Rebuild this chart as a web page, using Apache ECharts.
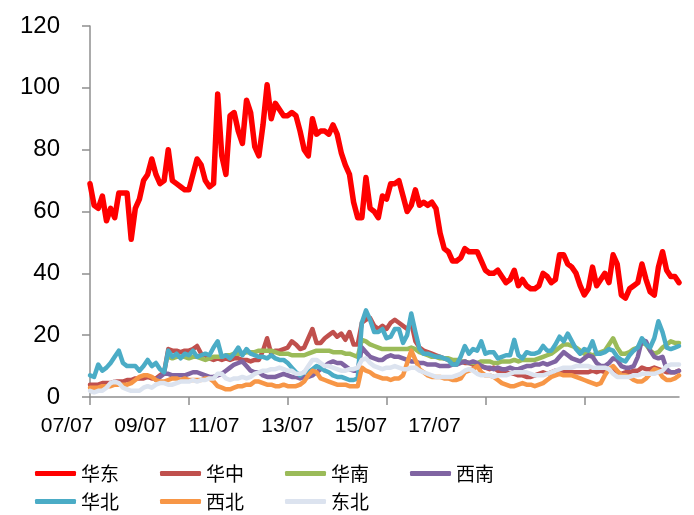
<!DOCTYPE html>
<html><head><meta charset="utf-8">
<script src="https://cdn.jsdelivr.net/npm/echarts@6/dist/echarts.min.js"></script>
<style>html,body{margin:0;padding:0;background:#fff}#c{width:694px;height:515px}</style>
</head><body><div id="c"></div>
<script>
// monthly categories 2007-07 .. 2019-06
var categories = [];
(function(){var y=2007,m=7;for(var i=0;i<144;i++){categories.push(String(y%100).padStart(2,'0')+'/'+String(m).padStart(2,'0'));m++;if(m>12){m=1;y++;}}})();
var tickLabels = ['07/07','09/07','11/07','13/07','15/07','17/07'];
var seriesNames = ['华东','华中','华南','西南','华北','西北','东北'];

var huadong = [69,62,61,65,57,61,58,66,66,66,51,61,
64,70,72,77,72,69,70,80,70,69,68,67,
67,72,77,75,70,68,69,98,78,72,91,92,
86,82,96,92,81,78,88,101,90,95,93,91,
91,92,91,86,80,78,90,85,86,86,85,88,
85,79,75,72,63,58,58,71,61,60,58,65,
64,69,69,70,65,60,62,67,62,63,62,63,
61,53,48,47,44,44,45,48,47,47,47,44,
41,40,40,41,39,37,38,41,36,38,36,35,
35,36,40,39,37,38,46,46,43,42,40,36,
33,35,42,36,38,40,37,46,43,33,32,35,
36,37,43,38,34,33,42,47,41,39,39,37];
var huazhong = [4,4,4,4.5,4.5,4.5,5,5,5,5.5,5.5,6,
6,6,6.5,6,6,7,8,15.5,15,15,14.5,15,
15,15.5,16.5,14,13.5,12.5,12,12.5,12,12.5,12,12.5,
12.5,12,12,11.5,12,12,15,19,14,15,15,15.5,
16,18,17,15.5,16,19,22,17.5,17.5,19,20,21,
19.5,20.5,18.5,21,17,17,24,25,25.5,23,22,23,
22,24,25,24,23,22,24,18,16,15,14.5,14,
13.5,13,12.5,12,11.5,11,11.5,11,11,10.5,10,10,
9.5,9,9.5,8.5,8,8,7.5,7.5,7,7,6.5,6.5,
7,7.5,8,7.5,8,8.5,8.5,8,8.5,8,8,8,
8,8,8.5,8,8.5,8,9,8.5,8,7.5,8,8,
8.5,8.5,9.5,9,9,9.5,9,8.5,8,8,8,8.5];
var huanan = [null,null,null,null,null,null,null,null,null,null,null,null,
null,null,null,null,null,null,null,13,12.5,13,13,13,
12.5,13,13,12.5,12,12.5,13,13,13,13.5,13.5,14,
14,14,14.5,14.5,14.5,15,15,15,15,14.5,14,14,
14,13.5,13.5,13.5,13.5,14,14.5,15,15,15,15,14.5,
14.5,14.5,14,14,13.5,13,18.5,18,17,16.5,16,15.5,
15.5,15.5,15.5,15.5,15.5,15.5,16,15.5,14.5,14,13.5,13,
13,12.5,12.5,12.5,12,12,11.5,11.5,11,11,11,11.5,
11.5,11.5,11,11,11.5,11.5,11.5,12,11.5,12,12,12,
12,12.5,13,13.5,14,15,16,17,17,16.5,16,15,
14,14,13.5,14,14.5,15,17,19,16,14,14,14.5,
15.5,16,17.5,17,15,14,14.5,16,17,18,17.5,17.5];
var xinan = [null,null,null,null,null,null,null,null,null,null,null,null,
null,null,null,null,5.5,6.5,7.5,7.5,7,7,7,7,
7.5,8,8,7.5,7,6.5,6.5,7,7.5,8.5,9.5,10.5,
11,11.5,10,8.5,8,8,7,6.5,6.5,6.5,7,7.5,
7,6.5,6.5,6,6.5,6.5,7,8,9,10,11,11.5,
11,11,10,9,8.5,8.5,16,14.5,13,12.5,12,12,
13,13.5,13,13,12.5,12,11.5,11.5,11,11,10.5,10.5,
10.5,10,10,10,10.5,10.5,11,11.5,11,11.5,11,10,
9.5,9.5,9,9.5,9,9,9.5,9,9,9.5,10,10,
10.5,10.5,11,10.5,11,11.5,13,14.5,13.5,12.5,12,11.5,
12.5,13.5,13,11,10,10,11,12.5,12,10,9.5,9.5,
10,13,18.5,18,15,13,12.5,13,9,8,8,8.5];
var huabei = [7,6.5,10.5,8.5,9.5,11,13,15,11,10,10,10,
8.5,10,12,10,11,9,8,15,13,14,12.5,14,
13.5,15,13,13.5,14,13.5,16,18,13,13.5,12.5,14,
16,13.5,15.5,14,13.5,13,13,12.5,13.5,12.5,12,12,
11,9.5,8,7,8,8,9,10,9.5,8.5,8,7,
6.5,6.5,6,5.5,5.5,6,24,28,25,21,21,22,
19,19.5,22,22,17.5,20,27,21,15.5,14,14,13.5,
13,13,12.5,12,10.5,10.5,13,16.5,14,15.5,15,18,
14,14.5,14.5,12.5,13,13.5,13.5,18.5,13.5,12.5,14.5,14,
14,14.5,16.5,15,15,17,19.5,18,20.5,18,15.5,14,
15.5,15,18,14,14,14.5,15.5,15,13,12,11.5,13.5,
15,16,19,17,16,19,24.5,21,16,15.5,16,16.5];
var xibei = [3,3,3,3.5,3.5,3.5,4,4,4,4,4.5,5.5,
6.5,7,7,6.5,5.5,5,5,5.5,6,6,5.5,6,
5.5,5.5,5.5,5.5,6,6,5,3.5,3,2.5,2.5,3,
3.5,3.5,4,4,5,5,4.5,4,4,3.5,3.5,4,
3.5,3.5,3.5,4,5,7,8.5,8,6,5.5,5,4.5,
4,4,4,3.5,3.5,3.5,9.5,8.5,8,7,6.5,6,
6,5.5,6,6,7,11,15,12,9,8,7,6.5,
6.5,6.5,6,6,5.5,5.5,6,8,8.5,9,10,8,
7,7,6.5,5.5,4.5,4,3.5,3.5,4,4.5,4,4,
3.5,4,4.5,5.5,6.5,7,7.5,7,7,7,6.5,6,
5.5,5,4.5,4,4.5,7,9,10,8.5,7,7,6.5,
5.5,5,5,6,7.5,9,8.5,6.5,5.5,5.5,6,7];
var dongbei = [2,1.5,2,2,3,4.5,5,4.5,3,2.5,2,2,
2,3,3.5,3,4,4.5,4.5,4,4,4.5,5,5,
5,5.5,5,5.5,5.5,6,6,7.5,7.5,6,5.5,6,
6,6.5,6,6.5,7.5,8,8.5,8.5,9,9,9.5,9,
8.5,8.5,7.5,7.5,8,10,12,12,11,10,10,9.5,
9,8.5,8.5,9,9,9.5,12,12.5,11,10,9.5,9,
9.5,9.5,10,9.5,9,9,9.5,9.5,8.5,8,7.5,7,
6.5,6.5,6.5,6.5,6.5,7,7.5,8.5,9,8.5,7.5,7,
7,7,6.5,7,7,7,7.5,8,8,8,8,7.5,
7,7,7,7.5,8,8.5,9,9.5,9.5,9.5,10,10,
10,10,9.5,9.5,9.5,9.5,9,7.5,6.5,6.5,6.5,6.5,
7,7,7.5,7.5,7.5,7.5,8,8.5,10,10.5,10.5,10.5];

var allData = [huadong, huazhong, huanan, xinan, huabei, xibei, dongbei];
var colors = ['#ff0000','#c0504d','#9bbb59','#8064a2','#4bacc6','#f79646','#dce3ef'];
var widths = [5.5,4.5,4.5,4.5,4.5,4.5,4.5];

var chart = echarts.init(document.getElementById('c'), null, {renderer:'canvas'});
var axisGray = '#8f8f8f';
var legendText = {fontFamily:'Noto Sans CJK SC', fontSize:19, color:'#000'};
chart.setOption({
  animation:false,
  color: colors,
  grid:[
    {left:90, right:15, top:26, bottom:118},
    {left:30.25, width:441, top:26, bottom:118}
  ],
  legend:[
    {data:seriesNames.slice(0,4), left:30, top:459, icon:'roundRect', itemWidth:41, itemHeight:5, itemGap:41, textStyle:legendText},
    {data:seriesNames.slice(4), left:30, top:487, icon:'roundRect', itemWidth:41, itemHeight:5, itemGap:41, textStyle:legendText}
  ],
  xAxis:[
    {type:'category', gridIndex:0, data:categories, boundaryGap:false,
     axisLine:{lineStyle:{color:axisGray, width:1.5}},
     axisTick:{show:true, interval:23, length:8, lineStyle:{color:axisGray, width:1.5}},
     axisLabel:{show:false}, splitLine:{show:false}},
    {type:'category', gridIndex:1, data:tickLabels, boundaryGap:true,
     axisLine:{show:false}, axisTick:{show:false}, splitLine:{show:false},
     axisLabel:{interval:0, margin:19, fontSize:21, color:'#000', fontFamily:'Liberation Sans, Arial'}}
  ],
  yAxis:[
    {type:'value', gridIndex:0, min:0, max:120, interval:20,
     axisLine:{show:true, lineStyle:{color:axisGray, width:1.5}},
     axisTick:{show:true, length:8, lineStyle:{color:axisGray, width:1.5}},
     splitLine:{show:false},
     axisLabel:{margin:30, fontSize:24, color:'#000', fontFamily:'Liberation Sans, Arial'}},
    {type:'value', gridIndex:1, show:false, min:0, max:1}
  ],
  series: seriesNames.map(function(n,i){
    return {name:n, type:'line', xAxisIndex:0, yAxisIndex:0, data:allData[i], symbol:'none', showSymbol:false,
      connectNulls:false, lineStyle:{width:widths[i], color:colors[i], join:'round', cap:'round'}, itemStyle:{color:colors[i]}};
  })
});
</script></body></html>
